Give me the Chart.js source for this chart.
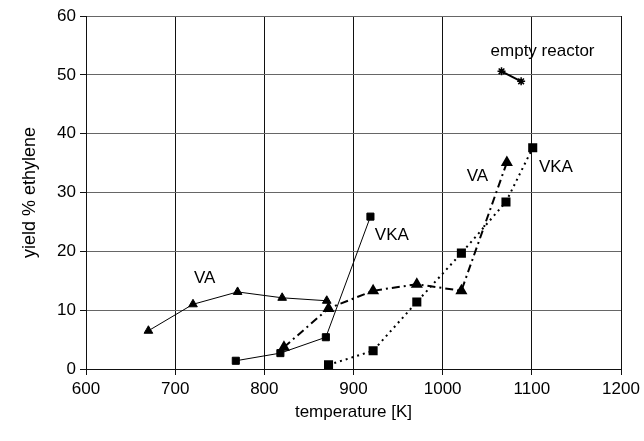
<!DOCTYPE html>
<html>
<head>
<meta charset="utf-8">
<script src="https://cdn.jsdelivr.net/npm/chart.js@4/dist/chart.umd.min.js"></script>
<style>
  html, body { margin: 0; padding: 0; background: #fff; }
  #wrap { width: 644px; height: 441px; }
</style>
</head>
<body>
<div id="wrap"><canvas id="yieldChart" width="644" height="441"></canvas></div>
<script>
// temperature [K] and yield % ethylene
let vaSolidT = [670, 720, 770, 820, 870];
let vaSolidY = [6.5, 11.0, 13.1, 12.1, 11.6];

let vkaSolidT = [768, 818, 869, 919];
let vkaSolidY = [1.4, 2.7, 5.4, 25.9];

let vaDashT = [822, 872, 922, 971, 1021, 1072];
let vaDashY = [3.7, 10.3, 13.3, 14.4, 13.3, 35.1];

let vkaDotT = [872, 922, 971, 1021, 1071, 1101];
let vkaDotY = [0.7, 3.1, 11.4, 19.7, 28.4, 37.6];

let emptyT = [1066, 1088];
let emptyY = [50.6, 48.9];

let xTicks = [600, 700, 800, 900, 1000, 1100, 1200];
let yTicks = [0, 10, 20, 30, 40, 50, 60];

// curve labels placed in data coordinates
let labelText = ["VA", "VKA", "VA", "VKA", "empty reactor"];
let labelT = [733, 943, 1039, 1127, 1112];
let labelY = [15.4, 22.8, 32.8, 34.2, 54.0];

const FONT = '"Liberation Sans", Arial, sans-serif';

function pts(xs, ys) {
  let out = [];
  for (let i = 0; i < xs.length; i++) out.push({x: xs[i], y: ys[i]});
  return out;
}

const curveLabels = {
  id: 'curveLabels',
  afterDatasetsDraw(chart) {
    let c = chart.ctx;
    let xs = chart.scales.x, ys = chart.scales.y;
    c.save();
    c.fillStyle = '#000';
    c.font = '17px ' + FONT;
    c.textBaseline = 'middle';
    c.textAlign = 'center';
    for (let i = 0; i < labelText.length; i++) {
      c.fillText(labelText[i], xs.getPixelForValue(labelT[i]), ys.getPixelForValue(labelY[i]));
    }
    c.restore();
  }
};

let chart = new Chart(document.getElementById('yieldChart'), {
  type: 'scatter',
  data: {
    datasets: [
      {
        label: 'VA',
        data: pts(vaSolidT, vaSolidY),
        showLine: true,
        borderColor: '#000',
        backgroundColor: '#000',
        borderWidth: 1,
        pointStyle: 'triangle',
        pointRadius: 5
      },
      {
        label: 'VKA',
        data: pts(vkaSolidT, vkaSolidY),
        showLine: true,
        borderColor: '#000',
        backgroundColor: '#000',
        borderWidth: 1,
        pointStyle: 'rect',
        pointRadius: 5
      },
      {
        label: 'VA dashed',
        data: pts(vaDashT, vaDashY),
        showLine: true,
        borderColor: '#000',
        backgroundColor: '#000',
        borderWidth: 2,
        borderDash: [8, 4, 2, 4],
        pointStyle: 'triangle',
        pointRadius: 5
      },
      {
        label: 'VKA dotted',
        data: pts(vkaDotT, vkaDotY),
        showLine: true,
        borderColor: '#000',
        backgroundColor: '#000',
        borderWidth: 2,
        borderDash: [2, 4],
        pointStyle: 'rect',
        pointRadius: 5
      },
      {
        label: 'empty reactor',
        data: pts(emptyT, emptyY),
        showLine: true,
        borderColor: '#000',
        backgroundColor: '#000',
        borderWidth: 2,
        pointStyle: 'star',
        pointRadius: 4,
        pointBorderWidth: 1.5
      }
    ]
  },
  options: {
    responsive: false,
    animation: false,
    layout: {
      padding: { left: 0, right: 23, top: 16, bottom: 0 }
    },
    plugins: {
      legend: { display: false },
      tooltip: { enabled: false }
    },
    scales: {
      x: {
        type: 'linear',
        min: 600,
        max: 1200,
        afterBuildTicks: function(scale) {
          scale.ticks = xTicks.map(v => ({value: v}));
        },
        afterFit: function(scale) { scale.height = 72; },
        grid: {
          color: '#111',
          lineWidth: 1,
          tickLength: 6,
          tickColor: '#111'
        },
        border: { color: '#111' },
        ticks: {
          color: '#000',
          padding: 4,
          callback: function(v) { return String(v); },
          font: { family: FONT, size: 17 }
        },
        title: {
          display: true,
          text: 'temperature [K]',
          color: '#000',
          padding: { top: 2, bottom: 18 },
          font: { family: FONT, size: 17 }
        }
      },
      y: {
        type: 'linear',
        min: 0,
        max: 60,
        afterBuildTicks: function(scale) {
          scale.ticks = yTicks.map(v => ({value: v}));
        },
        afterFit: function(scale) { scale.width = 86; },
        grid: {
          color: '#666',
          lineWidth: 1,
          tickLength: 6,
          tickColor: '#111'
        },
        border: { color: '#111' },
        ticks: {
          color: '#000',
          padding: 4,
          callback: function(v) { return String(v); },
          font: { family: FONT, size: 17 }
        },
        title: {
          display: true,
          text: 'yield % ethylene',
          color: '#000',
          padding: { top: 19, bottom: 0 },
          font: { family: FONT, size: 18 }
        }
      }
    }
  },
  plugins: [curveLabels]
});
</script>
</body>
</html>
